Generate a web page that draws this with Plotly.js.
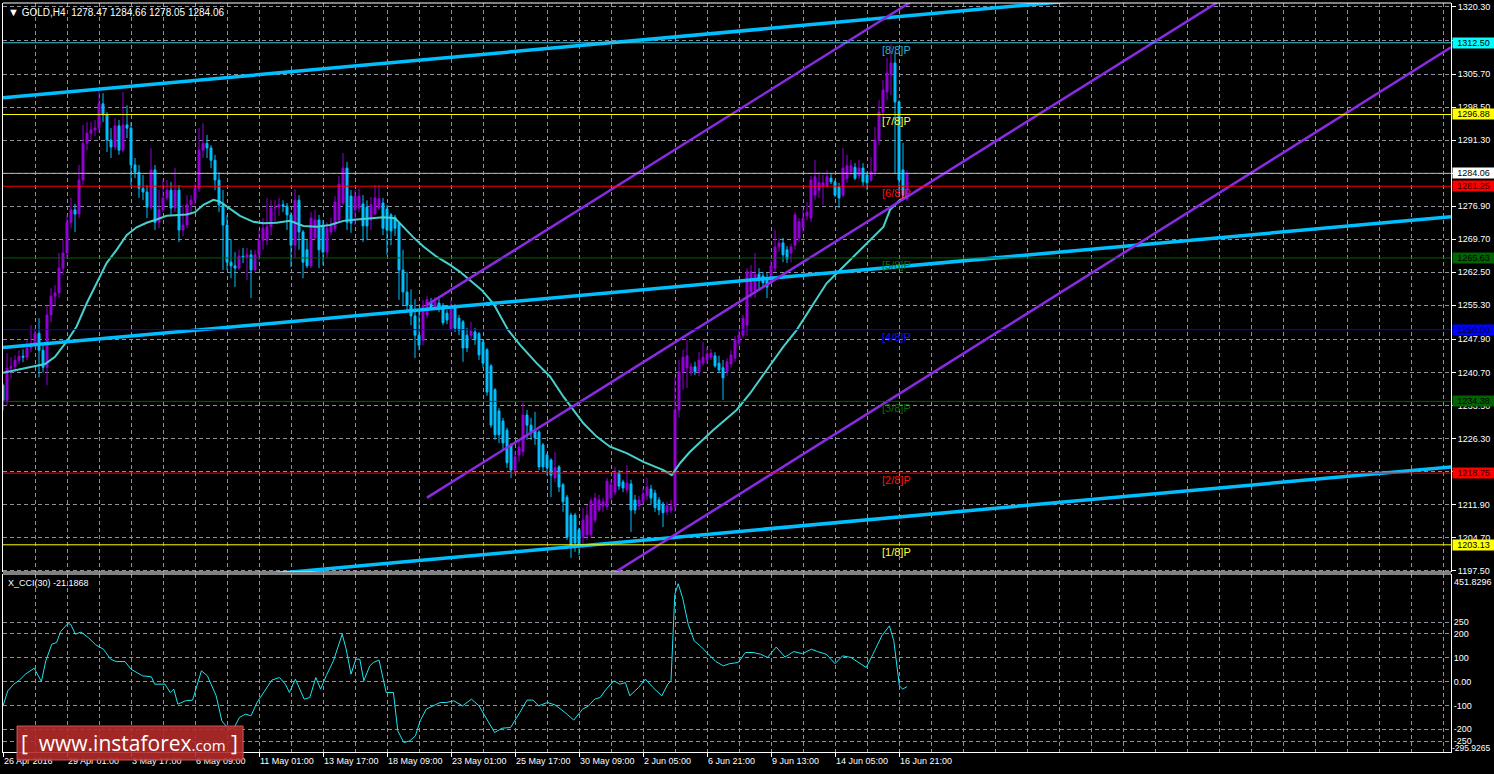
<!DOCTYPE html>
<html><head><meta charset="utf-8">
<script src="https://cdn.plot.ly/plotly-3.0.1.min.js"></script>
<style>html,body{margin:0;padding:0;background:#000;overflow:hidden}#chart{width:1494px;height:774px}</style>
</head><body><div id="chart"></div>
<script>
// ---------- DATA ----------
const symbolHeader = 'GOLD,H4&nbsp;&nbsp;1278.47 1284.66 1278.05 1284.06';
const cciHeader = 'X_CCI(30) -21.1868';

const xTickBars = [0,16,32,48,64,80,96,112,128,144,160,176,192,208,224];
const xTickLabels = ['26 Apr 2016','29 Apr 01:00','3 May 17:00','6 May 09:00','11 May 01:00','13 May 17:00','18 May 09:00','23 May 01:00','25 May 17:00','30 May 09:00','2 Jun 05:00','6 Jun 21:00','9 Jun 13:00','14 Jun 05:00','16 Jun 21:00'];

const priceTicks = [1320.30,1313.00,1305.70,1298.50,1291.30,1284.10,1276.90,1269.70,1262.50,1255.30,1247.90,1240.70,1233.50,1226.30,1219.10,1211.90,1204.70,1197.50];
const cciTicks = [250,200,100,0,-100,-200,-250];
const cciTickText = ['250','200','100','0.00','-100','-200','-250'];
const cciMax = 451.8296, cciMin = -295.9265;

const barOpen = [1237.9,1234.6,1241.6,1242.0,1243.3,1244.2,1244.0,1246.0,1247.0,1249.2,1245.5,1241.8,1253.2,1257.3,1258.0,1263.4,1266.7,1273.4,1276.1,1275.2,
1282.6,1290.6,1292.8,1293.5,1293.9,1299.2,1296.8,1291.3,1289.8,1294.4,1289.1,1294.6,1293.9,1285.9,1284.3,1280.8,1280.0,1276.7,1284.8,1273.4,
1276.1,1278.7,1280.4,1276.5,1280.4,1271.7,1272.8,1277.2,1278.2,1280.8,1289.1,1290.6,1289.6,1286.9,1282.6,1277.2,1272.8,1264.7,1263.9,1263.4,
1266.0,1265.8,1266.3,1263.0,1266.3,1269.5,1269.5,1272.4,1276.5,1276.7,1277.2,1276.9,1275.0,1268.4,1278.2,1271.3,1267.4,1263.9,1270.0,1273.9,
1272.8,1266.9,1271.3,1272.1,1273.9,1277.6,1285.2,1279.1,1276.1,1276.5,1277.4,1276.7,1273.9,1275.2,1276.5,1277.6,1276.3,1275.0,1274.5,1273.2,
1263.0,1258.2,1255.3,1253.0,1248.8,1247.7,1253.2,1255.8,1254.9,1255.8,1255.3,1253.6,1250.1,1254.7,1252.5,1251.7,1248.8,1248.8,1249.5,1249.1,
1247.3,1245.6,1242.1,1236.9,1232.3,1230.1,1228.1,1224.9,1219.4,1222.7,1223.4,1231.4,1229.2,1228.1,1227.7,1224.9,1222.7,1221.6,1217.7,1220.1,
1216.2,1213.5,1209.6,1209.6,1206.4,1204.8,1205.3,1205.3,1208.5,1210.7,1211.6,1211.4,1213.3,1214.6,1218.8,1216.8,1215.1,1216.4,1212.9,1211.6,
1212.5,1213.8,1215.3,1214.4,1212.9,1212.0,1210.3,1210.7,1211.4,1232.5,1240.8,1241.7,1240.6,1241.9,1240.8,1242.7,1243.4,1244.0,1244.3,1242.7,
1241.7,1240.8,1242.5,1243.8,1247.1,1248.8,1251.0,1258.2,1258.6,1262.1,1261.7,1260.8,1260.2,1263.4,1268.0,1268.9,1267.4,1266.7,1268.4,1270.0,
1272.2,1274.8,1274.3,1279.3,1280.4,1281.3,1281.3,1283.0,1282.2,1281.1,1279.3,1283.0,1284.4,1285.4,1283.5,1285.2,1283.7,1282.6,1284.4,1291.3,
1297.4,1301.8,1305.5,1308.1,1299.6,1284.8,1278.47];

const barHigh = [1238.3,1244.9,1244.0,1244.4,1245.5,1245.7,1247.7,1251.0,1250.3,1252.5,1247.0,1255.3,1259.0,1259.7,1266.7,1269.5,1275.0,1278.7,1277.4,1285.9,
1294.6,1295.2,1295.2,1295.7,1302.2,1301.5,1297.4,1293.9,1296.1,1295.7,1301.8,1298.9,1295.2,1287.4,1285.9,1283.7,1281.5,1289.6,1285.9,1280.4,
1282.6,1282.6,1282.2,1285.2,1281.5,1277.2,1279.3,1279.3,1281.9,1293.9,1295.0,1292.4,1290.2,1288.1,1284.3,1280.4,1275.0,1269.7,1266.9,1267.4,
1267.8,1267.8,1267.4,1267.4,1271.7,1274.3,1278.7,1278.2,1278.2,1278.7,1278.2,1277.6,1275.6,1280.6,1279.3,1271.7,1269.5,1275.6,1276.1,1275.0,
1273.9,1273.4,1274.3,1279.1,1283.5,1288.5,1286.5,1280.4,1280.4,1280.8,1279.3,1278.2,1278.9,1281.5,1281.5,1278.7,1277.2,1275.4,1275.0,1273.4,
1267.4,1262.6,1258.8,1256.7,1254.0,1256.5,1257.3,1256.9,1257.1,1256.7,1255.8,1254.3,1256.5,1255.6,1253.2,1252.1,1250.4,1251.7,1250.4,1249.5,
1247.8,1246.0,1242.5,1237.3,1232.9,1230.8,1228.6,1225.3,1223.4,1226.0,1234.2,1232.5,1230.8,1232.1,1228.1,1225.3,1223.1,1222.0,1223.4,1220.5,
1216.6,1214.0,1210.1,1210.1,1206.8,1211.2,1211.8,1213.3,1214.4,1214.0,1213.3,1217.7,1217.3,1220.1,1219.4,1217.3,1220.5,1217.3,1214.0,1213.8,
1215.5,1217.7,1216.2,1215.1,1213.5,1212.5,1212.5,1212.9,1239.7,1243.4,1245.6,1247.8,1242.7,1243.0,1245.1,1247.3,1246.2,1245.8,1245.1,1244.3,
1243.4,1243.8,1245.6,1248.6,1249.9,1253.2,1263.4,1264.1,1266.7,1263.4,1262.6,1262.3,1265.2,1271.7,1270.0,1270.0,1268.2,1268.7,1275.6,1274.3,
1276.1,1277.8,1283.5,1287.0,1284.4,1283.7,1284.8,1283.9,1282.6,1282.0,1289.6,1288.1,1287.0,1286.3,1287.0,1286.3,1284.4,1287.6,1294.2,1300.0,
1304.4,1309.2,1312.2,1310.3,1300.0,1290.7,1284.66];

const barLow = [1232.4,1233.5,1239.4,1240.7,1242.5,1242.9,1243.3,1245.1,1246.2,1239.6,1240.7,1237.9,1251.6,1255.3,1256.9,1261.9,1265.6,1272.1,1271.3,1274.3,
1281.5,1289.1,1291.3,1292.2,1293.0,1295.2,1288.7,1287.4,1289.1,1288.1,1288.7,1291.7,1281.5,1283.0,1278.7,1278.2,1274.3,1276.1,1271.7,1272.1,
1275.6,1278.2,1275.0,1275.6,1269.1,1270.4,1272.1,1275.0,1277.2,1280.0,1287.4,1287.4,1285.2,1280.4,1275.6,1263.0,1263.0,1261.2,1259.3,1263.0,
1264.5,1260.8,1256.9,1262.6,1265.2,1267.4,1268.4,1270.6,1273.4,1274.8,1275.6,1271.7,1263.6,1265.6,1267.4,1261.2,1263.4,1263.4,1269.5,1263.4,
1264.1,1265.6,1270.6,1271.3,1273.4,1277.2,1271.7,1271.1,1272.8,1275.6,1269.1,1269.5,1271.7,1275.0,1276.1,1270.6,1266.3,1268.4,1270.4,1256.5,
1255.3,1254.3,1251.0,1243.8,1245.5,1246.6,1252.5,1254.3,1254.3,1253.8,1251.0,1251.2,1249.7,1249.5,1248.8,1243.0,1245.1,1247.8,1246.7,1243.4,
1241.7,1235.6,1228.6,1226.0,1225.3,1223.8,1219.9,1217.7,1219.0,1221.2,1222.5,1226.0,1226.0,1224.9,1219.4,1219.0,1218.3,1213.5,1216.8,1214.6,
1210.3,1204.2,1200.3,1201.6,1200.9,1202.4,1204.2,1204.8,1207.9,1210.3,1210.3,1210.7,1212.9,1214.0,1215.1,1214.6,1214.4,1205.9,1209.8,1210.7,
1211.8,1212.9,1211.8,1210.3,1209.6,1207.0,1209.6,1210.1,1210.3,1230.8,1236.9,1237.3,1239.9,1240.1,1239.9,1242.1,1242.5,1243.4,1241.7,1240.6,
1234.7,1239.9,1241.7,1243.0,1246.4,1248.2,1248.6,1256.9,1256.9,1258.6,1259.3,1256.9,1260.0,1262.6,1266.9,1264.7,1264.5,1264.7,1267.4,1269.1,
1271.1,1273.9,1273.5,1278.3,1278.7,1277.2,1280.9,1281.7,1278.9,1276.5,1278.9,1282.0,1283.7,1282.6,1282.8,1281.3,1280.4,1282.2,1283.5,1290.2,
1296.1,1300.0,1301.1,1284.1,1278.9,1278.3,1278.05];

const barClose = [1234.6,1241.6,1242.0,1243.3,1244.2,1244.0,1246.0,1247.0,1249.2,1245.5,1241.8,1253.2,1257.3,1258.0,1263.4,1266.7,1273.4,1276.1,1275.2,1282.6,
1290.6,1292.8,1293.5,1293.9,1299.2,1296.8,1291.3,1289.8,1294.4,1289.1,1294.6,1293.9,1285.9,1284.3,1280.8,1280.0,1276.7,1284.8,1273.4,1276.1,
1278.7,1280.4,1276.5,1280.4,1271.7,1272.8,1277.2,1278.2,1280.8,1289.1,1290.6,1289.6,1286.9,1282.6,1277.2,1272.8,1264.7,1263.9,1263.4,1266.0,
1265.8,1266.3,1263.0,1266.3,1269.5,1272.1,1272.4,1276.5,1276.7,1277.2,1276.9,1275.0,1268.4,1278.2,1271.3,1264.7,1263.9,1274.3,1273.9,1267.4,
1266.9,1272.1,1273.0,1277.8,1281.7,1285.2,1273.4,1273.2,1279.1,1279.1,1272.6,1272.6,1277.2,1278.7,1278.5,1272.1,1271.7,1271.5,1272.1,1263.0,
1258.2,1255.3,1253.0,1248.8,1246.6,1255.3,1256.5,1254.7,1256.0,1254.7,1251.5,1252.1,1254.7,1250.3,1249.9,1246.0,1246.0,1249.7,1247.8,1244.5,
1242.7,1236.4,1229.2,1227.1,1227.1,1225.3,1221.0,1219.4,1222.3,1224.4,1231.4,1229.2,1227.7,1226.4,1220.1,1220.1,1219.9,1218.3,1219.9,1215.7,
1212.5,1204.8,1203.1,1203.5,1203.1,1208.5,1209.6,1212.7,1213.3,1212.9,1212.5,1217.0,1216.2,1218.8,1215.9,1215.5,1216.6,1210.7,1210.7,1212.9,
1214.2,1215.7,1213.3,1211.2,1210.7,1210.1,1211.6,1211.4,1232.5,1240.8,1244.0,1244.3,1241.9,1240.8,1243.4,1244.0,1244.7,1244.9,1242.1,1241.2,
1239.5,1243.0,1244.5,1247.8,1248.8,1252.5,1262.6,1262.6,1262.1,1260.8,1260.2,1259.3,1263.9,1268.0,1268.9,1266.3,1265.4,1268.0,1275.0,1273.5,
1274.3,1275.6,1282.6,1283.3,1282.0,1282.0,1283.3,1282.2,1279.3,1278.7,1285.2,1285.7,1285.7,1283.0,1285.2,1282.2,1282.0,1284.4,1291.3,1297.4,
1302.2,1305.9,1308.1,1299.6,1282.6,1279.3,1284.06];

// moving average line, read at points along the picture
const maBar = [0,4.25,7.5,10.5,13,15.9,18.4,20.9,23.4,25.9,28.4,30.9,33.4,35.9,38.4,40.9,45.9,48,50.1,52.6,54.25,56.75,59.25,62.6,65.1,68.4,71.75,75.1,78.4,81.75,85.1,88.4,91.75,95.1,98,100.1,102.6,105.1,108.4,111.75,114.25,119.7,122.6,126.3,129.25,133.4,136.75,140.1,142.6,145.1,148.4,151.75,155.9,160.1,165.1,167.2,169.25,171.75,177.5,183.4,186.75,190.9,195.1,198.4,202.6,205.9,209.25,212.6,216.75,220.1,221.75,224.25,226];
const maValue = [1240.6,1241.4,1242.1,1242.5,1244.1,1247.4,1250.7,1255.7,1260.1,1264.5,1267.4,1270.6,1272.3,1273.3,1274.0,1274.8,1275.1,1275.6,1277.2,1278.3,1277.9,1276.3,1274.8,1273.5,1273.2,1273.3,1273.7,1272.6,1272.4,1272.8,1273.7,1274.0,1274.3,1274.5,1274.3,1272.4,1270.1,1268.1,1265.9,1264.1,1262.6,1258.6,1255.7,1249.9,1246.7,1242.7,1239.8,1235.4,1232.5,1229.6,1226.7,1224.5,1223.1,1221.2,1219.4,1218.3,1220.9,1223.4,1228.1,1232.5,1236.1,1241.2,1246.3,1249.9,1255.7,1260.1,1263.0,1265.9,1269.5,1272.4,1276.1,1278.3,1279.0];

// CCI(30)
const cciBar = [0,1.2,2.7,4.1,5.6,7.8,9.6,10.7,12.2,13.4,14.4,16.2,16.9,18.1,19.5,21.3,23.2,25.1,26.9,28.3,30.5,32,34.9,37.1,37.9,40.5,41.8,42.7,43.7,45.6,47.4,49.6,51.1,53.3,54.7,56.2,57.7,59.1,60.6,62,63.5,65.7,67.2,69.1,70.6,71.6,73.1,75.3,76.7,78.2,79.4,80.8,82.6,84.8,85.8,87,88.2,89.2,90.2,91.7,92.6,94,95.8,97.6,98.7,100.2,101.7,103.1,104.3,105.8,107.5,109.3,110.8,112.7,114.9,117.1,119,120.7,122.9,124.8,126.9,129.2,131,132.5,133.9,136.1,138,140.5,142.7,144.9,146.4,147.9,149.3,150.8,152.7,154.2,155.6,156.7,158.9,160.6,162.5,164.7,166.2,167,167.95,168.8,169.9,171.3,172.8,174.3,176.5,178.2,180.1,181.6,183.8,185.6,187.5,189.4,191.1,193.3,195.5,197.7,199.9,202.1,203.6,205.8,208,209.9,212,213.9,215.8,217.5,219.7,221.6,222.7,224.1,224.9,226];
const cciValue = [-102,-39,-11,6,31,56,0,87,157,164,210,243,241,199,208,185,154,136,94,84,84,52,24,20,-11,-11,-46,-32,-95,-81,-78,45,24,-60,-165,-196,-196,-151,-137,-144,-88,-32,6,17,-11,-46,10,-74,-67,17,-32,24,87,199,136,31,94,94,3,66,80,90,-46,-46,-207,-256,-249,-228,-165,-116,-102,-88,-88,-81,-102,-74,-102,-151,-214,-196,-193,-130,-78,-78,-102,-88,-98,-130,-162,-116,-102,-74,-67,-32,3,-11,-4,-60,-25,10,-25,-60,-11,3,366,411,352,241,171,150,115,84,66,75,80,122,122,115,101,145,103,126,117,136,126,115,75,108,101,80,59,115,192,234,171,-18,-32,-21.19];

// Murrey Math levels and the current bid
const murreyLevels = [1312.50,1296.88,1281.25,1265.63,1250.00,1234.38,1218.75,1203.13];
const murreyNames = ['[8/8]P','[7/8]P','[6/8]P','[5/8]P','[4/8]P','[3/8]P','[2/8]P','[1/8]P'];
const bidPrice = 1284.06;

// hand-drawn trend lines: [bar, price] end points
const blueLineBars = [[0,362],[0,362],[0,362]];
const blueLinePrices = [[1300.5,1329.1],[1246.1,1274.6],[1191.5,1220.1]];
const purpleLineBars = [[106,362],[106,362],[150,362]];
const purpleLinePrices = [[1255.4,1395.1],[1213.4,1353.2],[1195.5,1311.5]];

// ---------- STYLE ----------
const GRID = '#8c919b';
const DASH = '4px,3px';
const murreyColors = ['#3fc6dc','#ffff00','#ff0000','#006400','#0000ff','#006400','#ff0000','#ffff00'];
const murreyBoxBg = ['#00ffff','#ffff00','#ff0000','#006400','#0000ff','#006400','#ff0000','#ffff00'];
const murreyBoxText = ['#000','#000','#300000','#000','#000010','#000','#300000','#000'];
const murreyTextColors = ['#2fb0d0','#ffff40','#ff1010','#0a6a0a','#1010ff','#0a6a0a','#ff1010','#ffff40'];
const FONT = 'Liberation Sans, Arial, sans-serif';

const barIndex = barClose.map((_, i) => i);

const traces = [];
traces.push({
  type: 'candlestick', x: barIndex, open: barOpen, high: barHigh, low: barLow, close: barClose,
  xaxis: 'x', yaxis: 'y',
  increasing: {line: {color: '#9400d8', width: 1}, fillcolor: '#9400d8'},
  decreasing: {line: {color: '#00bfff', width: 1}, fillcolor: '#00bfff'},
  whiskerwidth: 0, hoverinfo: 'skip'
});
traces.push({type: 'scatter', mode: 'lines', x: maBar, y: maValue, xaxis: 'x', yaxis: 'y',
  line: {color: '#48d1cc', width: 2}, hoverinfo: 'skip'});
for (let k = 0; k < blueLineBars.length; k++) {
  traces.push({type: 'scatter', mode: 'lines', x: blueLineBars[k], y: blueLinePrices[k], xaxis: 'x', yaxis: 'y',
    line: {color: '#00bfff', width: 3.5}, hoverinfo: 'skip'});
}
for (let k = 0; k < purpleLineBars.length; k++) {
  traces.push({type: 'scatter', mode: 'lines', x: purpleLineBars[k], y: purpleLinePrices[k], xaxis: 'x', yaxis: 'y',
    line: {color: '#8a2be2', width: 2.5}, hoverinfo: 'skip'});
}
traces.push({type: 'scatter', mode: 'lines', x: cciBar, y: cciValue, xaxis: 'x', yaxis: 'y2',
  line: {color: '#1ee3ef', width: 1}, hoverinfo: 'skip'});

const PRICE_DOM = [0.2403, 1];
const CCI_DOM = [0, 0.23765];

const shapes = [];
murreyLevels.forEach((lv, k) => {
  shapes.push({type: 'line', xref: 'x domain', x0: 0, x1: 1, yref: 'y', y0: lv, y1: lv,
    line: {color: murreyColors[k], width: 1}, layer: 'above'});
});
shapes.push({type: 'line', xref: 'x domain', x0: 0, x1: 1, yref: 'y', y0: bidPrice, y1: bidPrice,
  line: {color: '#b4b4b4', width: 1}, layer: 'above'});
[1, PRICE_DOM[0], CCI_DOM[1]].forEach(yy => {
  shapes.push({type: 'line', xref: 'paper', x0: 0, x1: 1, yref: 'paper', y0: yy, y1: yy,
    line: {color: '#ffffff', width: 1}, layer: 'above'});
});
shapes.push({type: 'rect', xref: 'paper', yref: 'paper', x0: 0.0097, x1: 0.1658, y0: -0.0107, y1: 0.0347,
  fillcolor: 'rgba(178,42,42,0.9)', line: {color: 'rgba(215,95,95,0.9)', width: 1}, layer: 'above'});

const annotations = [];
annotations.push({xref: 'paper', yref: 'paper', x: 0, y: 1, xanchor: 'left', yanchor: 'top', xshift: 3, yshift: -1,
  text: '<span style="font-size:11px">▼</span>&nbsp;' + symbolHeader, showarrow: false,
  font: {family: FONT, size: 10, color: '#ffffff'}});
annotations.push({xref: 'paper', yref: 'paper', x: 0, y: CCI_DOM[1], xanchor: 'left', yanchor: 'top', xshift: 3, yshift: -2,
  text: cciHeader, showarrow: false, font: {family: FONT, size: 9, color: '#ffffff'}});
murreyLevels.forEach((lv, k) => {
  annotations.push({xref: 'x', yref: 'y', x: 219.5, y: lv, xanchor: 'left', yanchor: 'top', yshift: 0,
    text: murreyNames[k], showarrow: false, borderpad: 0,
    font: {family: FONT, size: 11, color: murreyTextColors[k]}});
});
const boxPrices = murreyLevels.concat([bidPrice]);
const boxBg = murreyBoxBg.concat(['#ffffff']);
const boxFg = murreyBoxText.concat(['#000000']);
boxPrices.forEach((lv, k) => {
  annotations.push({xref: 'paper', yref: 'y', x: 1, y: lv, xanchor: 'left', yanchor: 'middle', xshift: 1,
    text: lv.toFixed(2), showarrow: false, bgcolor: boxBg[k], borderpad: 0, width: 41, height: 10, align: 'center',
    font: {family: FONT, size: 9, color: boxFg[k]}});
});
annotations.push({xref: 'paper', yref: 'y2', x: 1, y: cciMax, xanchor: 'left', yanchor: 'top', xshift: 1, yshift: -1,
  text: cciMax.toFixed(4), showarrow: false, font: {family: FONT, size: 9, color: '#ffffff'}});
annotations.push({xref: 'paper', yref: 'y2', x: 1, y: cciMin, xanchor: 'left', yanchor: 'middle', xshift: -1, yshift: 4,
  text: cciMin.toFixed(4), showarrow: false, font: {family: FONT, size: 8.5, color: '#ffffff'}});
annotations.push({xref: 'paper', yref: 'paper', x: 0.0877, y: 0.012, xanchor: 'center', yanchor: 'middle',
  text: '[&nbsp;&nbsp;www.instaforex<span style="font-size:15px">.com</span>&nbsp;]', showarrow: false,
  font: {family: 'Open Sans, Liberation Sans, sans-serif', size: 21, color: '#ffffff'}});

const layout = {
  width: 1494, height: 774,
  margin: {l: 3, r: 43, t: 3, b: 22, pad: 0},
  paper_bgcolor: '#000000', plot_bgcolor: '#000000',
  showlegend: false, hovermode: false, dragmode: false,
  font: {family: FONT, size: 9, color: '#ffffff'},
  xaxis: {
    domain: [0, 1], anchor: 'y2', range: [0, 362], type: 'linear',
    rangeslider: {visible: false},
    tickmode: 'array', tickvals: xTickBars, ticktext: xTickLabels,
    ticks: 'outside', ticklen: 4, tickcolor: '#ffffff', tickwidth: 1,
    ticklabelposition: 'outside right',
    tickfont: {family: FONT, size: 9, color: '#ffffff'},
    showgrid: false,
    minor: {tickmode: 'linear', tick0: 0, dtick: 8, showgrid: true, gridcolor: GRID, griddash: DASH, gridwidth: 1, ticks: ''},
    showline: true, linecolor: '#ffffff', linewidth: 1, zeroline: false
  },
  yaxis: {
    domain: PRICE_DOM, anchor: 'x', side: 'right', range: [1197.2, 1321.17], type: 'linear',
    tickmode: 'array', tickvals: priceTicks, ticktext: priceTicks.map(v => v.toFixed(2)),
    ticks: 'outside', ticklen: 4, tickcolor: '#ffffff', tickwidth: 1,
    tickfont: {family: FONT, size: 9, color: '#ffffff'},
    showgrid: true, gridcolor: GRID, griddash: DASH, gridwidth: 1,
    showline: true, mirror: true, linecolor: '#ffffff', linewidth: 1, zeroline: false
  },
  yaxis2: {
    domain: CCI_DOM, anchor: 'x', side: 'right', range: [cciMin, cciMax], type: 'linear',
    tickmode: 'array', tickvals: cciTicks, ticktext: cciTickText,
    ticks: '', ticklen: 2,
    tickfont: {family: FONT, size: 9, color: '#ffffff'},
    showgrid: true, gridcolor: GRID, griddash: DASH, gridwidth: 1,
    showline: true, mirror: true, linecolor: '#ffffff', linewidth: 1, zeroline: false
  },
  shapes: shapes,
  annotations: annotations
};

Plotly.newPlot('chart', traces, layout, {staticPlot: true, displayModeBar: false});
</script>
</body></html>
